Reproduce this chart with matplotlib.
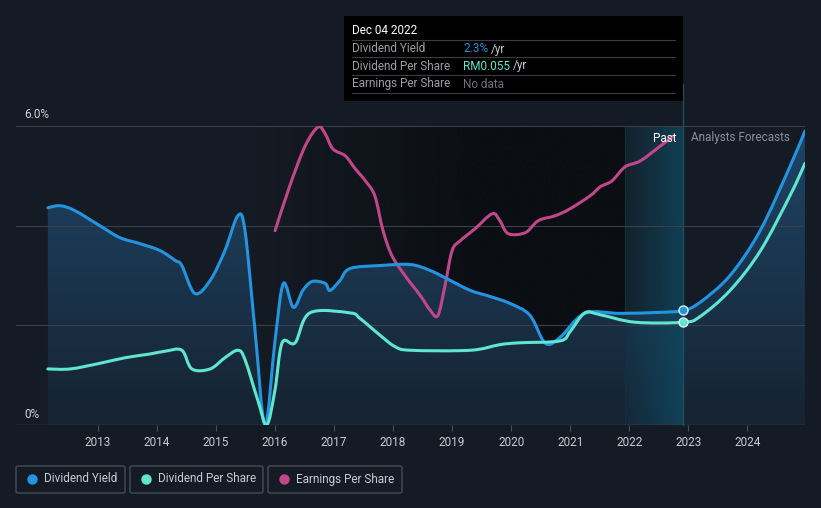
import matplotlib
matplotlib.use("Agg")
import matplotlib.pyplot as plt
import numpy as np
from matplotlib.patches import PathPatch, FancyBboxPatch, Rectangle
from matplotlib.path import Path
from matplotlib.colors import to_rgb

plt.rcParams["font.family"] = ["Roboto", "DejaVu Sans"]

# Dividend yield (%)
yield_years = [2012.15, 2012.36, 2012.61, 2013.03, 2013.37, 2013.71, 2014.05, 2014.31,
               2014.42, 2014.64, 2014.90, 2015.15, 2015.37, 2015.49, 2015.66, 2015.83,
               2016.00, 2016.14, 2016.31, 2016.47, 2016.63, 2016.85, 2016.93, 2017.10,
               2017.27, 2017.78, 2018.29, 2018.63, 2018.97, 2019.31, 2019.64, 2019.98,
               2020.32, 2020.58, 2020.83, 2021.25, 2021.85, 2022.53, 2022.92, 2023.20,
               2023.71, 2024.22, 2024.73, 2024.98]
yield_pct = [4.36, 4.40, 4.30, 4.00, 3.76, 3.64, 3.50, 3.30,
             3.20, 2.64, 2.90, 3.50, 4.20, 3.90, 1.90, 0.00,
             1.70, 2.84, 2.36, 2.70, 2.88, 2.84, 2.70, 2.90,
             3.14, 3.20, 3.22, 3.10, 2.90, 2.70, 2.58, 2.44,
             2.20, 1.64, 1.76, 2.24, 2.24, 2.26, 2.30, 2.46,
             3.00, 3.90, 5.20, 5.90]

# Dividend per share (RM)
dps_years = [2012.15, 2012.53, 2013.03, 2013.46, 2013.88, 2014.14, 2014.42, 2014.59,
             2014.90, 2015.15, 2015.37, 2015.49, 2015.71, 2015.86, 2016.00, 2016.12,
             2016.34, 2016.59, 2017.27, 2017.44, 2017.78, 2018.03, 2018.29, 2019.31,
             2019.81, 2020.15, 2020.83, 2021.00, 2021.25, 2021.51, 2022.10, 2022.92,
             2023.20, 2023.71, 2024.22, 2024.73, 2024.98]
dps_rm = [0.030, 0.030, 0.033, 0.036, 0.038, 0.0395, 0.040, 0.030,
          0.030, 0.036, 0.040, 0.035, 0.013, 0.000, 0.019, 0.044,
          0.044, 0.060, 0.060, 0.057, 0.048, 0.042, 0.040, 0.040,
          0.043, 0.044, 0.045, 0.050, 0.060, 0.059, 0.055, 0.055,
          0.058, 0.072, 0.093, 0.123, 0.140]

# Earnings per share (relative scale, no axis shown)
eps_years = [2016.00, 2016.25, 2016.51, 2016.73, 2016.85, 2016.98, 2017.19, 2017.36,
             2017.53, 2017.69, 2017.83, 2017.98, 2018.20, 2018.46, 2018.63, 2018.76,
             2018.88, 2019.00, 2019.14, 2019.39, 2019.68, 2019.81, 2019.95, 2020.24,
             2020.46, 2020.75, 2021.00, 2021.34, 2021.51, 2021.71, 2021.93, 2022.19,
             2022.53, 2022.75]
eps_val = [3.90, 4.80, 5.60, 5.98, 5.84, 5.54, 5.40, 5.14,
           4.90, 4.60, 3.90, 3.40, 3.00, 2.60, 2.30, 2.20,
           2.80, 3.50, 3.70, 3.94, 4.24, 4.10, 3.84, 3.86,
           4.10, 4.20, 4.34, 4.60, 4.78, 4.90, 5.18, 5.30,
           5.60, 5.80]

year_ticks = list(range(2013, 2025))
now_year = 2022.92
past_start = 2021.93

BG = "#151b24"
BLUE = "#2394df"
TEAL = "#5ee6cf"
PINK = "#c2468a"

XMIN, XMAX = 2011.61, 2024.98
DPS_MAX = 0.16
W, H = 821, 508


def smooth_path(xs, ys, tension=1 / 6):
    """Catmull-Rom through the points, as cubic bezier segments."""
    pts = np.column_stack([xs, ys]).astype(float)
    verts = [pts[0]]
    codes = [Path.MOVETO]
    n = len(pts)
    for i in range(n - 1):
        p0 = pts[max(i - 1, 0)]
        p1 = pts[i]
        p2 = pts[i + 1]
        p3 = pts[min(i + 2, n - 1)]
        c1 = p1 + (p2 - p0) * tension
        c2 = p2 - (p3 - p1) * tension
        verts += [c1, c2, p2]
        codes += [Path.CURVE4] * 3
    return Path(np.array(verts), codes)


def draw_line(axis, xs, ys, color, z):
    patch = PathPatch(smooth_path(xs, ys), facecolor="none", edgecolor=color, lw=2.2,
                      zorder=z, capstyle="round", joinstyle="round")
    axis.add_patch(patch)
    return patch


fig = plt.figure(figsize=(8.21, 5.08), dpi=100)
fig.patch.set_facecolor(BG)
ax = fig.add_axes([16 / W, 83 / H, 789 / W, 299 / H])
ax.set_facecolor(BG)

# darker past band, fading in from the left
dark = np.zeros((2, 256, 4))
dark[..., :3] = to_rgb("#0b0e13")
dark[..., 3] = np.clip(np.linspace(0, 1.6, 256), 0, 1)[None, :]
ax.imshow(dark, extent=[2015.6, past_start, 0, 6], origin="lower", aspect="auto", zorder=0,
          interpolation="bilinear")

# gradient fill under dividend yield
yp = smooth_path(yield_years, yield_pct)
fverts = np.vstack([yp.vertices, [[yield_years[-1], 0], [yield_years[0], 0], yp.vertices[0]]])
fcodes = list(yp.codes) + [Path.LINETO, Path.LINETO, Path.CLOSEPOLY]
clip = PathPatch(Path(fverts, fcodes), transform=ax.transData, facecolor="none",
                 edgecolor="none")
ax.add_patch(clip)
top = np.array(to_rgb("#1f4568"))
bot = np.array(to_rgb("#162331"))
t = np.linspace(0, 1, 256)[:, None, None]
img = (bot + (top - bot) * t) * np.ones((1, 2, 1))
im = ax.imshow(img, extent=[XMIN, XMAX, 0, 6], origin="lower", aspect="auto", zorder=1,
               interpolation="bilinear")
im.set_clip_path(clip)

# highlighted last-year band
band = np.zeros((2, 256, 4))
band[..., :3] = to_rgb("#0f4c66")
band[..., 3] = np.linspace(0.12, 0.75, 256)[None, :]
ax.imshow(band, extent=[past_start, now_year, 0, 6], origin="lower", aspect="auto", zorder=2,
          interpolation="bilinear")
ax.axvline(past_start, color="#11313b", lw=0.8, zorder=2)
ax.plot([now_year, now_year], [0, 6.85], color="#1d4f5e", lw=1, zorder=2, clip_on=False)

# grid
for g in [2, 4, 6]:
    ax.axhline(g, color="#3a404a", lw=0.8, zorder=2)
ax.axhline(0, color="#4a505a", lw=1.0, zorder=2)

# lines
draw_line(ax, yield_years, yield_pct, BLUE, 5)
draw_line(ax, eps_years, eps_val, PINK, 4)
dps_scaled = [v * 6 / DPS_MAX for v in dps_rm]
draw_line(ax, dps_years, dps_scaled, TEAL, 5)
ax.plot([now_year], [0.055 * 6 / DPS_MAX], "o", ms=6.5, color=TEAL, mec="#e0f0f0", mew=1,
        zorder=7)
ax.plot([now_year], [2.30], "o", ms=6.5, color=BLUE, mec="#e0f0f0", mew=1, zorder=7)

ax.set_xlim(XMIN, XMAX)
ax.set_ylim(0, 6)
for s in ax.spines.values():
    s.set_visible(False)
ax.set_yticks([])
ax.set_xticks(year_ticks)
ax.set_xticklabels([str(y) for y in year_ticks], color="#c8ccd2", fontsize=8.5)
ax.tick_params(axis="x", length=4, color="#4a505a", pad=4)

fig.text(24 / W, 1 - 115 / H, "6.0%", color="#d0d3d8", fontsize=8.5, va="center")
fig.text(24 / W, 1 - 414 / H, "0%", color="#d0d3d8", fontsize=8.5, va="center")
fig.text(676 / W, 1 - 138 / H, "Past", color="white", fontsize=8.5, ha="right", va="center")
fig.text(691 / W, 1 - 138 / H, "Analysts Forecasts", color="#8a8f98", fontsize=8.5,
         ha="left", va="center")

# tooltip
fig.add_artist(Rectangle((344 / W, 1 - 101 / H), 339 / W, 85 / H, transform=fig.transFigure,
                         facecolor="black", edgecolor="none", zorder=10))
fig.text(352 / W, 1 - 31 / H, "Dec 04 2022", color="white", fontsize=8.5, va="center", zorder=11)
rows = [("Dividend Yield", "2.3%", BLUE, 49),
        ("Dividend Per Share", "RM0.055", TEAL, 66),
        ("Earnings Per Share", None, None, 84)]
for ly in [40, 57, 75, 93]:
    fig.add_artist(plt.Line2D([352 / W, 675 / W], [1 - ly / H] * 2, color="#3a3d42", lw=0.8,
                              zorder=11))
for label, val, col, yy in rows:
    fig.text(352 / W, 1 - yy / H, label, color="#9a9ea5", fontsize=8.5, va="center", zorder=11)
    if val is None:
        fig.text(463 / W, 1 - yy / H, "No data", color="#6c7079", fontsize=8.5, va="center",
                 zorder=11)
    else:
        t1 = fig.text(463 / W, 1 - yy / H, val, color=col, fontsize=8.5, va="center", zorder=11)
        fig.canvas.draw()
        bb = t1.get_window_extent()
        fig.text(bb.x1 / W + 3 / W, 1 - yy / H, "/yr", color="#c8ccd2", fontsize=8.5,
                 va="center", zorder=11)

# legend boxes
legend = [("Dividend Yield", BLUE, 16, 125), ("Dividend Per Share", TEAL, 130, 263),
          ("Earnings Per Share", PINK, 268, 402)]
for name, col, x0, x1 in legend:
    fig.add_artist(FancyBboxPatch((x0 / W, 1 - 493 / H), (x1 - x0) / W, 27 / H,
                                  boxstyle="round,pad=0,rounding_size=0.003",
                                  transform=fig.transFigure, facecolor="none",
                                  edgecolor="#464b55", lw=1))
    fig.add_artist(plt.Line2D([(x0 + 16) / W], [1 - 479 / H], marker="o", ms=6.5, color=col,
                              lw=0))
    fig.text((x0 + 28) / W, 1 - 479 / H, name, color="#c8ccd2", fontsize=8.5, va="center")

fig.savefig("out.png", dpi=100, facecolor=BG)
